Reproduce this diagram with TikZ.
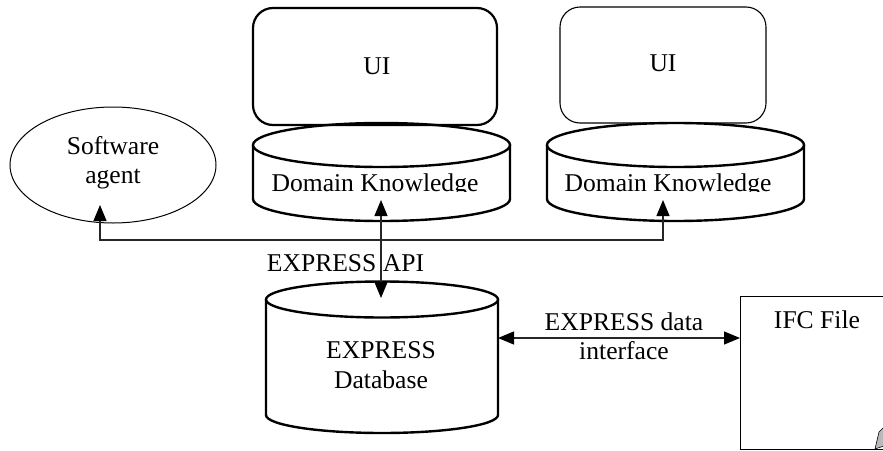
\documentclass[tikz,border=0pt]{standalone}
\usepackage{fontspec}
\setmainfont{Liberation Serif}
\usetikzlibrary{arrows.meta,shapes.geometric}
\newcommand\mycyl[6]{% L R T B ry rx
  \draw[line width=2.4pt, fill=white] ({#1},{#3}) -- ({#1},{#4})
    .. controls ({#1},{#4+0.5523*#5}) and ({#1+#6-0.5523*#6},{#4+#5}) .. ({#1+#6},{#4+#5})
    .. controls ({#1+#6+0.5523*#6},{#4+#5}) and ({#2},{#4+0.5523*#5}) .. ({#2},{#4})
    -- ({#2},{#3});
  \draw[line width=2.4pt, fill=white] ({#1+#6},{#3}) ellipse [x radius=#6pt, y radius=#5pt];
}
\begin{document}
\begin{tikzpicture}[x=1pt,y=-1pt,
  >={Triangle[length=16pt,width=13pt,color=black]},
  conn/.style={line width=1.2pt, draw=black!85},
  lbl/.style={font=\fontsize{25.6}{30}\selectfont, inner sep=0pt},
  uibox/.style={draw, rounded corners=20pt, inner sep=0pt}]
\useasboundingbox (0,0) rectangle (883,450);
\clip (0,0) rectangle (883,450);

% software agent
\node[draw, ellipse, line width=1pt, minimum width=206pt, minimum height=116pt, inner sep=0pt] (agent) at (113,165) {};
\node[lbl, align=center, anchor=base, font=\fontsize{25.6}{29}\selectfont] (agentt) at (113,183) {Software\\agent};

% cylinders (domain knowledge)
\mycyl{253}{510}{145}{199}{22}{128.5}
\mycyl{547}{804}{145}{199}{22}{128.5}
\node[inner sep=0pt, minimum width=257pt, minimum height=98pt] (dk1) at (381.5,172) {};
\node[inner sep=0pt, minimum width=257pt, minimum height=98pt] (dk2) at (675.5,172) {};
\begin{scope}
  \clip (240,100) rectangle (820,191.6);
  \node[lbl, anchor=base] (dk1t) at (375,191.5) {Domain Knowledge};
  \node[lbl, anchor=base] (dk2t) at (668,191.5) {Domain Knowledge};
\end{scope}

% UI boxes
\node[uibox, line width=2.2pt, minimum width=244pt, minimum height=117pt] (ui1) at (375,66.5) {};
\node[lbl, anchor=base] (ui1t) at (377,74) {UI};
\node[uibox, line width=1.1pt, minimum width=206pt, minimum height=116pt] (ui2) at (663,65) {};
\node[lbl, anchor=base] (ui2t) at (663,71) {UI};

% EXPRESS database
\mycyl{266}{498}{299.5}{415}{18}{116}
\node[inner sep=0pt, minimum width=232pt, minimum height=152pt] (db) at (382,357) {};
\node[lbl, align=center, anchor=base] (dbt) at (381,388) {EXPRESS\\Database};

% IFC file
\node[draw, line width=1.2pt, anchor=north west, minimum width=170pt, minimum height=153pt, inner sep=0pt] (ifc) at (740,296) {};
\node[lbl, anchor=base] (ifct) at (817,328) {IFC File};
\draw[fill=gray!55, line width=0.6pt] (875,449) -- (879,432) -- (884,427) -- (884,446) -- cycle;

% connector end points
\coordinate (agentIn) at (100,205);
\coordinate (dk1In) at (381,200);
\coordinate (dk2In) at (663,200);
\coordinate (dbIn) at (381,298);
\coordinate (hub) at (381,240);
\coordinate (dbR) at (498,338);
\coordinate (ifcL) at (740,338);

\draw[conn,->] (hub) -| (agentIn);
\draw[conn,->] (hub) -| (dk2In);
\draw[conn,<->] (dk1In) -- (dbIn);
\draw[conn,<->] (dbR) -- (ifcL);

% labels
\node[lbl, anchor=base] (apit) at (345.5,271) {EXPRESS API};
\node[lbl, align=center, anchor=base, font=\fontsize{25.6}{29}\selectfont] (ifacet) at (624,359) {EXPRESS data\\interface};
\end{tikzpicture}
\end{document}
